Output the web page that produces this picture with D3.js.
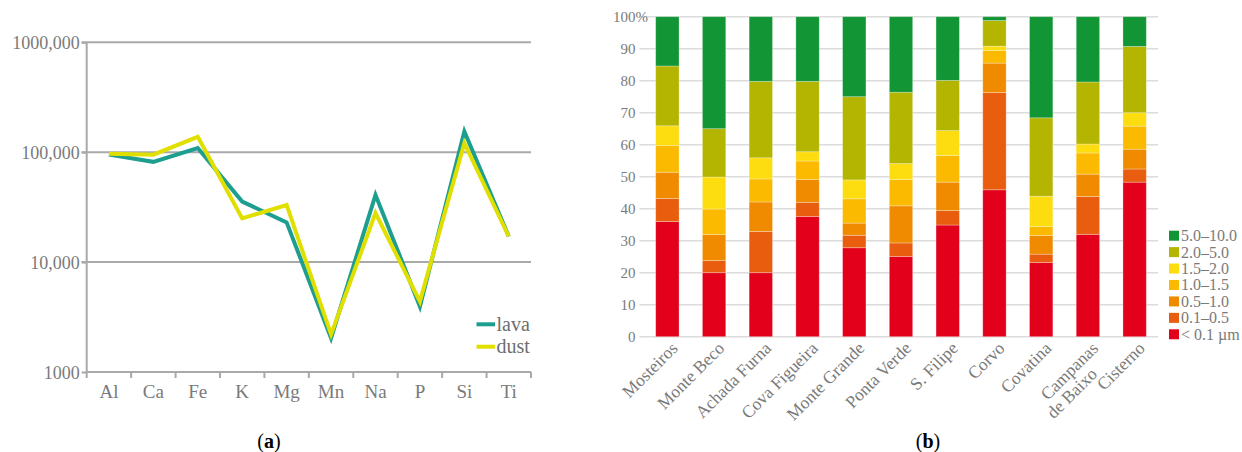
<!DOCTYPE html>
<html><head><meta charset="utf-8">
<script src="https://cdn.jsdelivr.net/npm/d3@7"></script>
<style>
html,body{margin:0;padding:0;background:#fff;}
</style></head>
<body><svg id="c" width="1242" height="452"></svg>
<script>
// ---- Panel (a) data ----
const elements = ["Al","Ca","Fe","K","Mg","Mn","Na","P","Si","Ti"];
const lava = [95000, 81700, 109000, 35500, 23000, 2030, 40900, 3950, 154000, 17100];
const dust = [97000, 95000, 138000, 25000, 33100, 2200, 27900, 4390, 121000, 17100];
const logTicks = [1000, 10000, 100000, 1000000];
const logTickLabels = ["1000", "10,000", "100,000", "1000,000"];

// ---- Panel (b) data ----
const sites = ["Mosteiros","Monte Beco","Achada Furna","Cova Figueira","Monte Grande","Ponta Verde","S. Filipe","Corvo","Covatina","Campanas de Baixo","Cisterno"];
const sizeClasses = ["< 0.1 µm","0.1–0.5","0.5–1.0","1.0–1.5","1.5–2.0","2.0–5.0","5.0–10.0"];
const lt01   = [36.0, 20.0, 20.0, 37.6, 27.8, 25.1, 34.9, 45.9, 23.2, 32.0, 48.3];
const c01_05 = [ 7.2,  3.8, 12.9,  4.4,  3.9,  4.2,  4.5, 30.4,  2.6, 11.8,  4.1];
const c05_10 = [ 8.2,  8.1,  9.2,  7.1,  3.8, 11.6,  8.9,  9.2,  5.8,  7.0,  6.2];
const c10_15 = [ 8.3,  8.0,  7.2,  5.8,  7.6,  8.2,  8.3,  3.9,  2.8,  6.6,  7.2];
const c15_20 = [ 6.2, 10.0,  6.6,  2.9,  5.9,  5.0,  7.8,  1.4,  9.5,  2.8,  4.2];
const c20_50 = [18.7, 15.1, 23.9, 22.0, 26.0, 22.3, 15.7,  8.0, 24.5, 19.4, 20.7];
const c50_100= [15.4, 35.0, 20.2, 20.2, 25.0, 23.6, 19.9,  1.2, 31.6, 20.4,  9.3];
const pctTicks = [0,10,20,30,40,50,60,70,80,90,100];

const classColors = ["#e2001b","#e95d0f","#f08b00","#fbb900","#fddc10","#b3b500","#129534"];
const textGray = "#7a7a7a";
const FONT = "Liberation Serif, DejaVu Serif, serif";

const svg = d3.select("#c").attr("font-family", FONT);

// ================= Panel (a) =================
(function(){
  const x = d3.scaleBand().domain(elements).range([86.7, 531]);
  const y = d3.scaleLog().domain([1000, 1000000]).range([372, 42.3]);
  const g = svg.append("g");
  g.selectAll("line.grid").data(logTicks.slice(1)).join("line")
    .attr("x1", 81.5).attr("x2", 531).attr("y1", d=>y(d)).attr("y2", d=>y(d))
    .attr("stroke", "#a9a9a9").attr("stroke-width", 2);
  const ya = g.append("g").attr("transform","translate(86.7,0)")
    .call(d3.axisLeft(y).tickValues(logTicks).tickFormat((d,i)=>logTickLabels[i]).tickSize(5).tickPadding(2));
  ya.attr("font-family", FONT);
  ya.select(".domain").attr("stroke","#a9a9a9").attr("stroke-width",2).attr("d","M0,"+y(1000000)+"V"+y(1000));
  ya.selectAll(".tick line").attr("stroke","#a9a9a9").attr("stroke-width",2);
  ya.selectAll(".tick text").attr("fill",textGray).attr("font-size",18).attr("dy","0.34em");
  const xa = g.append("g").attr("transform","translate(0,"+y(1000)+")")
    .call(d3.axisBottom(x).tickSize(0).tickPadding(13));
  xa.attr("font-family", FONT);
  xa.select(".domain").attr("stroke","#a9a9a9").attr("stroke-width",2).attr("d","M86.7,0H531");
  xa.selectAll(".tick text").attr("fill",textGray).attr("font-size",19);
  const bounds = elements.map(e=>x(e)).concat([x(elements[elements.length-1])+x.bandwidth()]);
  g.selectAll("line.bt").data(bounds).join("line")
    .attr("x1",d=>d).attr("x2",d=>d).attr("y1",y(1000)).attr("y2",y(1000)+6)
    .attr("stroke","#a9a9a9").attr("stroke-width",2);

  const line = d3.line().x((d,i)=>x(elements[i])+x.bandwidth()/2).y(d=>y(d));
  g.append("path").datum(lava).attr("d",line).attr("fill","none")
    .attr("stroke","#1d9e8e").attr("stroke-width",4).attr("stroke-linejoin","miter");
  g.append("path").datum(dust).attr("d",line).attr("fill","none")
    .attr("stroke","#e1df00").attr("stroke-width",4).attr("stroke-linejoin","miter");

  const leg = [["lava","#1d9e8e"],["dust","#e1df00"]];
  leg.forEach((l,i)=>{
    const yy = 324.3 + i*22.4;
    g.append("line").attr("x1",476.5).attr("x2",495).attr("y1",yy).attr("y2",yy)
      .attr("stroke",l[1]).attr("stroke-width",4);
    g.append("text").attr("x",496.5).attr("y",yy).attr("dy","0.32em")
      .attr("fill","#6e6e6e").attr("font-size",20).text(l[0]);
  });
  const cap = g.append("text").attr("x",269).attr("y",448).attr("text-anchor","middle")
    .attr("font-size",20).attr("fill","#000");
  cap.append("tspan").text("(");
  cap.append("tspan").attr("font-weight","bold").text("a");
  cap.append("tspan").text(")");
})();

// ================= Panel (b) =================
(function(){
  const x = d3.scaleBand().domain(sites).range([644, 1158]).paddingInner(0.5).paddingOuter(0.25);
  const y = d3.scaleLinear().domain([0,100]).range([336.7, 16.7]);
  const g = svg.append("g");
  g.selectAll("line.grid").data(pctTicks).join("line")
    .attr("x1",639.5).attr("x2",1158).attr("y1",d=>y(d)).attr("y2",d=>y(d))
    .attr("stroke","#dcdcdc").attr("stroke-width",1.5);
  g.selectAll("text.yl").data(pctTicks).join("text")
    .attr("x",635.5).attr("y",d=>y(d)).attr("dy","0.34em").attr("text-anchor","end")
    .attr("fill",textGray).attr("font-size",15).text(d=>d);
  g.append("text").attr("x",635.5).attr("y",y(100)).attr("dy","0.34em")
    .attr("fill",textGray).attr("font-size",15).text("%");

  const rows = sites.map((s,i)=>({site:s, c0:lt01[i], c1:c01_05[i], c2:c05_10[i], c3:c10_15[i], c4:c15_20[i], c5:c20_50[i], c6:c50_100[i]}));
  const keys = ["c0","c1","c2","c3","c4","c5","c6"];
  const stack = d3.stack().keys(keys)(rows);
  g.selectAll("g.layer").data(stack).join("g").attr("fill",(d,i)=>classColors[i])
    .selectAll("rect").data(d=>d).join("rect")
    .attr("x",d=>x(d.data.site)).attr("width",x.bandwidth())
    .attr("y",d=>y(d[1])).attr("height",d=>y(d[0])-y(d[1]))
    .attr("stroke","#ffffff").attr("stroke-opacity",0.35).attr("stroke-width",0.8);

  sites.forEach(s=>{
    const cx = x(s)+x.bandwidth()/2;
    const t = g.append("text")
      .attr("transform","translate("+(cx+7)+",345) rotate(-45)")
      .attr("text-anchor","end").attr("fill",textGray).attr("font-size",17.5);
    if (s === "Campanas de Baixo") {
      t.append("tspan").attr("x",0).attr("dy","0.35em").text("Campanas");
      t.append("tspan").attr("x",-19).attr("dy","1.0em").text("de Baixo");
    } else {
      t.append("tspan").attr("x",0).attr("dy","0.35em").text(s);
    }
  });

  const legClasses = sizeClasses.slice().reverse();
  const legColors = classColors.slice().reverse();
  legClasses.forEach((c,i)=>{
    const yy = 235.7 + i*16.43;
    g.append("rect").attr("x",1169).attr("y",yy-5).attr("width",10).attr("height",10).attr("fill",legColors[i]);
    g.append("text").attr("x",1181).attr("y",yy).attr("dy","0.34em")
      .attr("fill",textGray).attr("font-size",16).text(c);
  });

  const cap = g.append("text").attr("x",928).attr("y",448).attr("text-anchor","middle")
    .attr("font-size",20).attr("fill","#000");
  cap.append("tspan").text("(");
  cap.append("tspan").attr("font-weight","bold").text("b");
  cap.append("tspan").text(")");
})();
</script>
</body></html>
